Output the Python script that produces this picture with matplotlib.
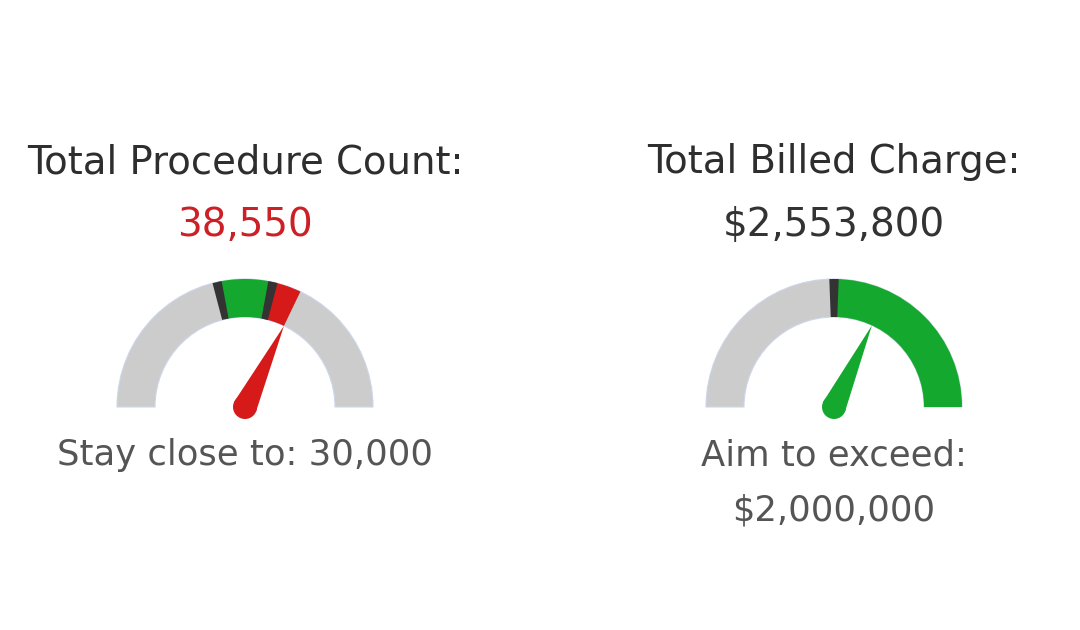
import numpy as np
import matplotlib
matplotlib.use("Agg")
import matplotlib.pyplot as plt
from matplotlib.patches import Wedge, Circle, Polygon

# gauge data
titles = ["Total Procedure Count:", "Total Billed Charge:"]
values = [38550, 2553800]
value_labels = ["38,550", "$2,553,800"]
targets = [30000, 2000000]
max_vals = [60000, 4000000]
green_lo = [25800, 2000000]
green_hi = [34200, 4000000]
target_lines = [["Stay close to: 30,000"], ["Aim to exceed:", "$2,000,000"]]
value_colors = ["#cc1f26", "#333333"]

GRAY = "#cccccc"
GREEN = "#14a92e"
RED = "#d61a1a"
DARK = "#333333"

W, H = 1080, 630
fig = plt.figure(figsize=(10.8, 6.3), dpi=100)
ax = fig.add_axes([0, 0, 1, 1])
ax.set_xlim(0, W)
ax.set_ylim(0, H)
ax.set_aspect("equal")
ax.axis("off")

centers_x = [245, 834]
cy = H - 407
R, r = 128, 90


def ang(v, vmax):
    return 180 - 180 * v / vmax


for i in range(2):
    cx = centers_x[i]
    vmax = max_vals[i]
    # background arc
    ax.add_patch(Wedge((cx, cy), R, 0, 180, width=R - r, facecolor=GRAY,
                       edgecolor="#ccd6ea", lw=0.8))
    # green band
    ax.add_patch(Wedge((cx, cy), R, ang(green_hi[i], vmax), ang(green_lo[i], vmax),
                       width=R - r, color=GREEN, lw=0))
    in_band = green_lo[i] <= values[i] <= green_hi[i]
    if values[i] > green_hi[i]:
        ax.add_patch(Wedge((cx, cy), R, ang(values[i], vmax), ang(green_hi[i], vmax),
                           width=R - r, color=RED, lw=0))
    elif values[i] < green_lo[i]:
        ax.add_patch(Wedge((cx, cy), R, ang(green_lo[i], vmax), ang(values[i], vmax),
                           width=R - r, color=RED, lw=0))
    # band edge ticks
    for b in (green_lo[i], green_hi[i]):
        if 0 < b < vmax:
            a = ang(b, vmax)
            ax.add_patch(Wedge((cx, cy), R, a - 2.1, a + 2.1, width=R - r, color=DARK, lw=0))
    # needle
    ncol = GREEN if in_band else RED
    t = np.radians(ang(values[i], vmax))
    L, bw = 90, 12
    tip = (cx + L * np.cos(t), cy + L * np.sin(t))
    p1 = (cx + bw * np.cos(t + np.pi / 2), cy + bw * np.sin(t + np.pi / 2))
    p2 = (cx + bw * np.cos(t - np.pi / 2), cy + bw * np.sin(t - np.pi / 2))
    ax.add_patch(Polygon([tip, p1, p2], closed=True, color=ncol, lw=0))
    ax.add_patch(Circle((cx, cy), bw, color=ncol, lw=0))

    # texts
    ax.text(cx, H - 173, titles[i], ha="center", va="baseline", fontsize=27.8,
            color="#2e2e2e", family="DejaVu Sans")
    ax.text(cx, H - 236, value_labels[i], ha="center", va="baseline", fontsize=28,
            color=value_colors[i], family="DejaVu Sans")
    for k, line in enumerate(target_lines[i]):
        ax.text(cx, H - 465 - 56 * k, line, ha="center", va="baseline", fontsize=25.5,
                color="#555555", family="DejaVu Sans")

fig.savefig("out.png", dpi=100, facecolor="white")
